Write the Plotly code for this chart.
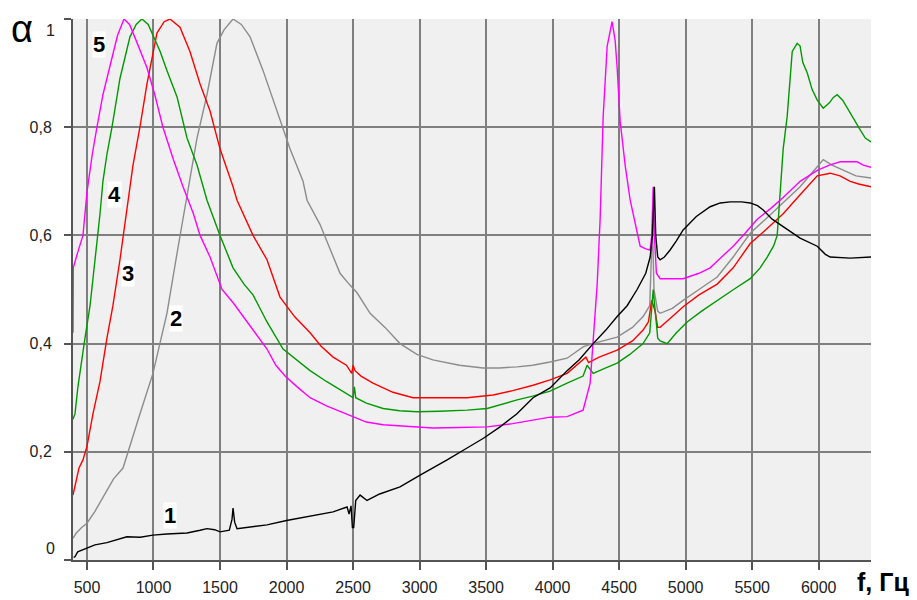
import plotly.graph_objects as go

# ---- data (f in Hz, alpha) ----
f1 = [400, 410, 430, 460, 500, 560, 650, 725, 800, 900, 996, 1100, 1252, 1350, 1402, 1460, 1500, 1570, 1590, 1598, 1610, 1628, 1700, 1853, 2000, 2102, 2250, 2350, 2455, 2470, 2485, 2495, 2505, 2520, 2553, 2605, 2700, 2853, 3004, 3100, 3207, 3357, 3480, 3605, 3730, 3853, 3981, 4109, 4200, 4305, 4400, 4485, 4560, 4635, 4700, 4733, 4750, 4765, 4775, 4790, 4808, 4840, 4883, 4930, 4981, 5080, 5184, 5260, 5335, 5420, 5485, 5540, 5583, 5650, 5733, 5860, 5989, 6050, 6086, 6237, 6393]
a1 = [0.005, 0.006, 0.015, 0.018, 0.022, 0.028, 0.032, 0.037, 0.043, 0.042, 0.046, 0.048, 0.050, 0.055, 0.058, 0.056, 0.052, 0.055, 0.075, 0.096, 0.070, 0.058, 0.060, 0.065, 0.073, 0.078, 0.085, 0.089, 0.098, 0.085, 0.100, 0.060, 0.060, 0.110, 0.120, 0.110, 0.122, 0.135, 0.157, 0.170, 0.185, 0.207, 0.225, 0.246, 0.270, 0.300, 0.318, 0.350, 0.370, 0.400, 0.425, 0.450, 0.470, 0.500, 0.530, 0.560, 0.600, 0.690, 0.600, 0.560, 0.555, 0.560, 0.573, 0.590, 0.610, 0.635, 0.653, 0.660, 0.662, 0.662, 0.660, 0.655, 0.647, 0.630, 0.616, 0.595, 0.580, 0.565, 0.560, 0.558, 0.560]

f2 = [395, 420, 460, 500, 560, 650, 700, 771, 808, 850, 898, 996, 1050, 1101, 1177, 1252, 1327, 1402, 1477, 1530, 1598, 1660, 1726, 1823, 1929, 2026, 2124, 2154, 2252, 2350, 2402, 2470, 2530, 2628, 2740, 2853, 2980, 3100, 3300, 3477, 3600, 3733, 3850, 3981, 4109, 4229, 4300, 4485, 4600, 4680, 4730, 4750, 4762, 4790, 4808, 4900, 4981, 5100, 5237, 5357, 5485, 5600, 5733, 5860, 5989, 6034, 6100, 6184, 6280, 6393]
a2 = [0.040, 0.050, 0.060, 0.068, 0.090, 0.130, 0.150, 0.170, 0.200, 0.230, 0.270, 0.345, 0.400, 0.456, 0.567, 0.670, 0.780, 0.860, 0.955, 0.980, 1.000, 0.990, 0.967, 0.905, 0.830, 0.760, 0.700, 0.665, 0.620, 0.560, 0.530, 0.510, 0.494, 0.456, 0.430, 0.400, 0.380, 0.370, 0.360, 0.355, 0.355, 0.357, 0.360, 0.366, 0.373, 0.394, 0.400, 0.412, 0.430, 0.450, 0.470, 0.620, 0.500, 0.460, 0.456, 0.465, 0.480, 0.500, 0.523, 0.560, 0.604, 0.630, 0.660, 0.690, 0.727, 0.740, 0.730, 0.720, 0.710, 0.706]

f3 = [395, 400, 420, 440, 470, 485, 500, 545, 598, 650, 695, 748, 800, 846, 898, 951, 1026, 1080, 1124, 1199, 1274, 1350, 1425, 1500, 1598, 1628, 1748, 1853, 1951, 2060, 2177, 2260, 2350, 2450, 2490, 2500, 2515, 2560, 2650, 2800, 2951, 3150, 3357, 3553, 3700, 3853, 3981, 4109, 4229, 4250, 4270, 4350, 4485, 4600, 4680, 4720, 4745, 4770, 4790, 4808, 4900, 4981, 5100, 5237, 5357, 5485, 5600, 5733, 5860, 5989, 6086, 6160, 6237, 6300, 6393]
a3 = [0.120, 0.125, 0.150, 0.170, 0.185, 0.200, 0.210, 0.270, 0.330, 0.410, 0.470, 0.555, 0.650, 0.730, 0.800, 0.880, 0.974, 0.995, 1.000, 0.985, 0.940, 0.880, 0.830, 0.760, 0.690, 0.665, 0.600, 0.555, 0.486, 0.450, 0.420, 0.395, 0.375, 0.360, 0.345, 0.360, 0.350, 0.340, 0.327, 0.310, 0.300, 0.300, 0.300, 0.305, 0.313, 0.323, 0.333, 0.345, 0.370, 0.375, 0.365, 0.375, 0.388, 0.405, 0.425, 0.440, 0.480, 0.460, 0.430, 0.430, 0.450, 0.468, 0.490, 0.510, 0.540, 0.585, 0.610, 0.640, 0.675, 0.710, 0.715, 0.710, 0.700, 0.695, 0.690]

f4 = [395, 410, 432, 460, 485, 523, 575, 598, 620, 650, 688, 748, 823, 870, 913, 960, 996, 1050, 1101, 1177, 1252, 1327, 1402, 1500, 1598, 1680, 1748, 1853, 1974, 2080, 2177, 2300, 2400, 2500, 2510, 2520, 2600, 2726, 2850, 2981, 3150, 3357, 3508, 3620, 3733, 3850, 3981, 4109, 4229, 4259, 4305, 4400, 4485, 4580, 4680, 4730, 4756, 4775, 4790, 4808, 4861, 4930, 5011, 5120, 5237, 5360, 5485, 5560, 5613, 5660, 5688, 5710, 5733, 5763, 5790, 5801, 5838, 5860, 5880, 5914, 5950, 5989, 6034, 6080, 6110, 6139, 6180, 6237, 6270, 6312, 6350, 6393]
a4 = [0.260, 0.270, 0.320, 0.370, 0.410, 0.470, 0.580, 0.640, 0.700, 0.750, 0.800, 0.890, 0.967, 0.990, 1.000, 0.990, 0.970, 0.940, 0.905, 0.856, 0.780, 0.730, 0.665, 0.600, 0.540, 0.510, 0.490, 0.440, 0.390, 0.370, 0.350, 0.330, 0.315, 0.300, 0.320, 0.300, 0.290, 0.280, 0.276, 0.274, 0.275, 0.277, 0.280, 0.288, 0.296, 0.303, 0.312, 0.327, 0.340, 0.360, 0.345, 0.355, 0.364, 0.380, 0.400, 0.420, 0.500, 0.450, 0.410, 0.405, 0.400, 0.420, 0.440, 0.460, 0.480, 0.500, 0.520, 0.540, 0.560, 0.580, 0.600, 0.680, 0.760, 0.820, 0.910, 0.940, 0.955, 0.950, 0.920, 0.900, 0.870, 0.850, 0.835, 0.845, 0.855, 0.860, 0.850, 0.826, 0.810, 0.795, 0.780, 0.773]

f5 = [395, 397, 432, 470, 500, 540, 575, 620, 680, 730, 778, 820, 870, 951, 1010, 1071, 1150, 1222, 1300, 1350, 1425, 1515, 1600, 1673, 1760, 1853, 1920, 1989, 2080, 2177, 2300, 2400, 2500, 2600, 2726, 2900, 3100, 3300, 3508, 3700, 3853, 3981, 4109, 4229, 4282, 4335, 4357, 4372, 4380, 4410, 4447, 4470, 4485, 4508, 4545, 4583, 4620, 4658, 4700, 4733, 4745, 4756, 4765, 4780, 4808, 4900, 4981, 5100, 5184, 5270, 5357, 5450, 5538, 5640, 5733, 5860, 5989, 6080, 6162, 6289, 6335, 6393]
a5 = [0.420, 0.540, 0.570, 0.600, 0.680, 0.750, 0.800, 0.860, 0.920, 0.970, 1.000, 0.990, 0.960, 0.910, 0.860, 0.800, 0.740, 0.690, 0.640, 0.600, 0.560, 0.500, 0.475, 0.450, 0.420, 0.390, 0.360, 0.340, 0.320, 0.300, 0.285, 0.275, 0.265, 0.255, 0.250, 0.247, 0.244, 0.245, 0.246, 0.252, 0.259, 0.264, 0.265, 0.277, 0.327, 0.510, 0.630, 0.760, 0.820, 0.950, 0.995, 0.960, 0.910, 0.810, 0.730, 0.665, 0.620, 0.580, 0.575, 0.573, 0.600, 0.690, 0.600, 0.530, 0.520, 0.520, 0.520, 0.530, 0.540, 0.560, 0.580, 0.605, 0.630, 0.650, 0.670, 0.700, 0.720, 0.730, 0.736, 0.736, 0.730, 0.726]

curve_labels = ["1", "2", "3", "4", "5"]
x_ticks = [500, 1000, 1500, 2000, 2500, 3000, 3500, 4000, 4500, 5000, 5500, 6000]
y_ticks = [0, 0.2, 0.4, 0.6, 0.8, 1.0]
y_ticktext = ["", "0,2", "0,4", "0,6", "0,8", ""]

series = [
    (f2, a2, "#8c8c8c"),
    (f3, a3, "#ff0000"),
    (f4, a4, "#009a00"),
    (f5, a5, "#ff00ff"),
    (f1, a1, "#000000"),
]

fig = go.Figure()
for fx, ay, col in series:
    fig.add_trace(go.Scatter(x=fx, y=ay, mode="lines",
                             line=dict(color=col, width=1.4),
                             hoverinfo="skip", showlegend=False))

# curve number labels
label_pos = {"1": (1124, 0.083), "2": (1169, 0.447), "3": (805, 0.530),
             "4": (707, 0.675), "5": (594, 0.952)}
for lab in curve_labels:
    x, y = label_pos[lab]
    fig.add_annotation(x=x, y=y, text="<b>%s</b>" % lab, showarrow=False,
                       font=dict(family="Liberation Sans, Arial", size=22, color="#000"),
                       bgcolor="#ffffff", borderpad=0)

tick_font = dict(family="Liberation Sans, Arial", size=16, color="#222222")

# y-axis end labels (offset like the reference)
fig.add_annotation(xref="paper", yref="paper", x=0, y=0, xanchor="right", yanchor="middle",
                   text="0", showarrow=False, xshift=-16, yshift=12, font=tick_font)
fig.add_annotation(xref="paper", yref="paper", x=0, y=1, xanchor="right", yanchor="middle",
                   text="1", showarrow=False, xshift=-16, yshift=-11, font=tick_font)

# axis titles
fig.add_annotation(xref="paper", yref="paper", x=0, y=1, xanchor="center", yanchor="middle",
                   text="α", showarrow=False, xshift=-51, yshift=-10,
                   font=dict(family="Liberation Sans, Arial", size=38, color="#000"))
fig.add_annotation(xref="paper", yref="paper", x=1, y=0, xanchor="left", yanchor="top",
                   text="<b>f, Гц</b>", showarrow=False, xshift=-16, yshift=-6,
                   font=dict(family="Liberation Sans, Arial", size=25, color="#000"))

# the page body adds an 8px offset, so the figure is sized/margined to compensate
fig.update_layout(
    width=909, height=592,
    margin=dict(l=65, r=46, t=11, b=40, autoexpand=False),
    paper_bgcolor="#ffffff",
    plot_bgcolor="#f0f0f0",
    showlegend=False,
)
fig.update_xaxes(range=[395, 6393], tickvals=x_ticks, ticks="outside", ticklen=8,
                 tickwidth=2, tickcolor="#555555", showgrid=True, gridcolor="#7f7f7f",
                 gridwidth=2, showline=True, linecolor="#555555", linewidth=2,
                 zeroline=False, tickfont=tick_font, ticklabelstandoff=4, automargin=False)
fig.update_yaxes(range=[0, 1], tickvals=y_ticks, ticktext=y_ticktext, ticks="outside",
                 ticklen=7, tickwidth=2, tickcolor="#555555", showgrid=True,
                 gridcolor="#7f7f7f", gridwidth=2, showline=True, linecolor="#555555",
                 linewidth=2, zeroline=False, tickfont=tick_font, ticklabelstandoff=9,
                 automargin=False)

fig.write_html("out.html")
